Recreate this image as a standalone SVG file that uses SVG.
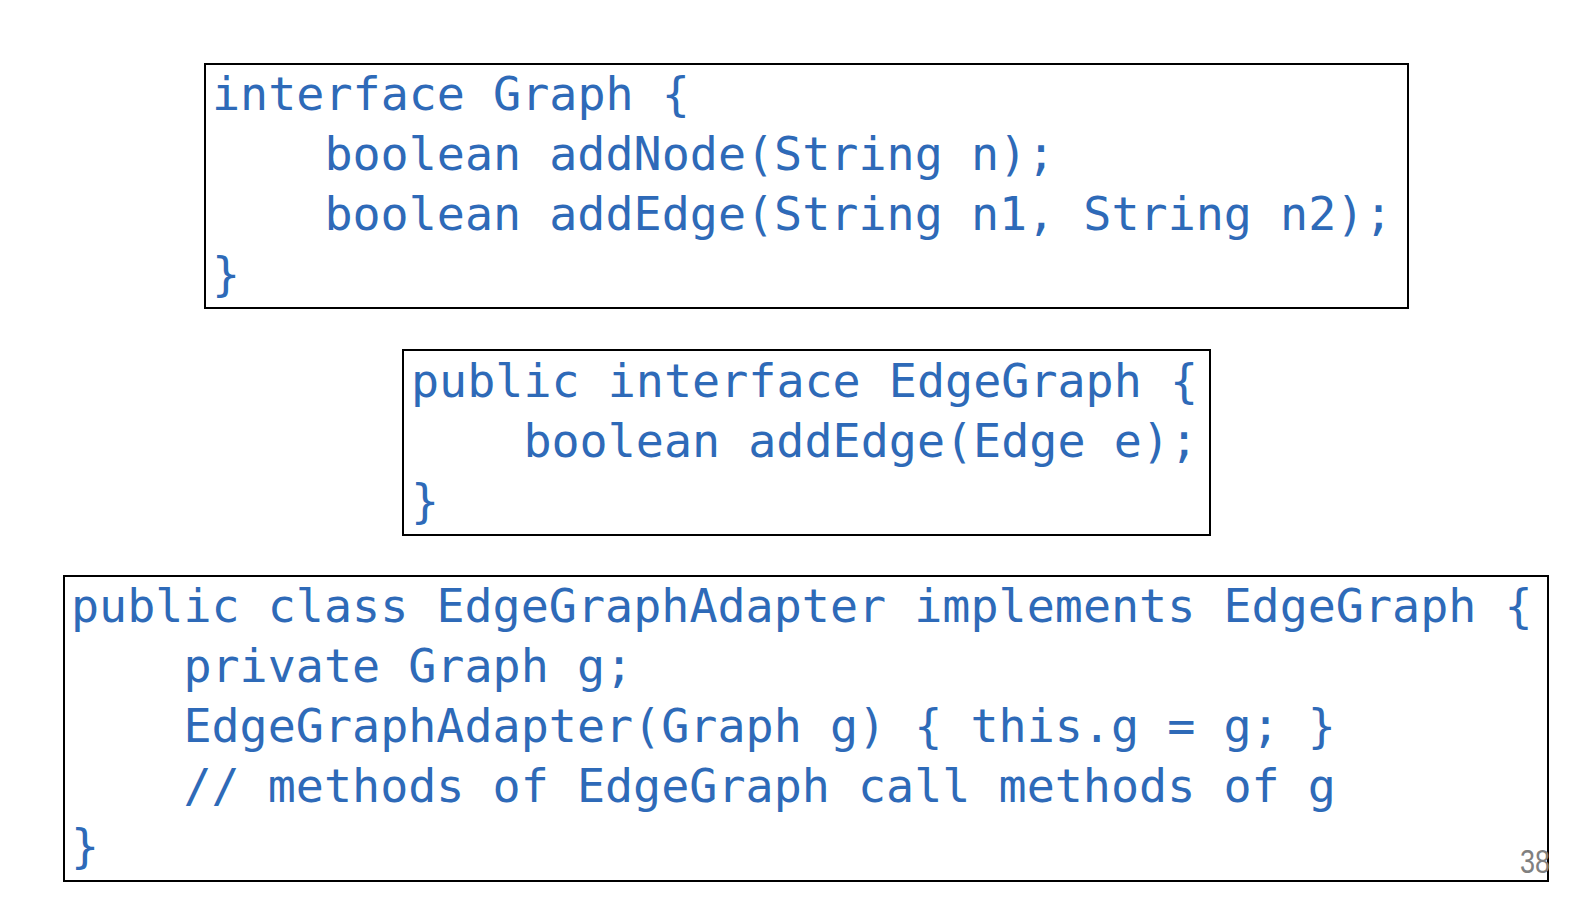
<svg xmlns="http://www.w3.org/2000/svg" width="1594" height="906" viewBox="0 0 1594 906">
<style>
.box{fill:#ffffff;stroke:#000000;stroke-width:2}
.code{font-family:"DejaVu Sans Mono","Liberation Mono",monospace;font-size:46.7px;fill:#2e6ab8}
.num{font-family:"Liberation Sans",Arial,sans-serif;font-size:34px;fill:#808080}
</style>
<rect x="0" y="0" width="1594" height="906" fill="#ffffff"/>
<g id="graph">
<rect class="box" x="205" y="64" width="1203" height="244"/>
<text class="code" x="212" y="110">interface Graph {</text>
<text class="code" x="324.4" y="170">boolean addNode(String n);</text>
<text class="code" x="324.4" y="230">boolean addEdge(String n1, String n2);</text>
<text class="code" x="212" y="290">}</text>
</g>
<g id="edgegraph">
<rect class="box" x="403" y="350" width="807" height="185"/>
<text class="code" x="411" y="397">public interface EdgeGraph {</text>
<text class="code" x="523.4" y="457">boolean addEdge(Edge e);</text>
<text class="code" x="411" y="517">}</text>
</g>
<g id="adapter">
<rect class="box" x="64" y="576" width="1484" height="305"/>
<text class="code" x="71" y="622">public class EdgeGraphAdapter implements EdgeGraph {</text>
<text class="code" x="183.4" y="682">private Graph g;</text>
<text class="code" x="183.4" y="742">EdgeGraphAdapter(Graph g) { this.g = g; }</text>
<text class="code" x="183.4" y="802">// methods of EdgeGraph call methods of g</text>
<text class="code" x="71" y="862">}</text>
</g>
<text class="num" x="1520" y="873" textLength="30" lengthAdjust="spacingAndGlyphs">38</text>
<g id="connectors"></g>
</svg>
